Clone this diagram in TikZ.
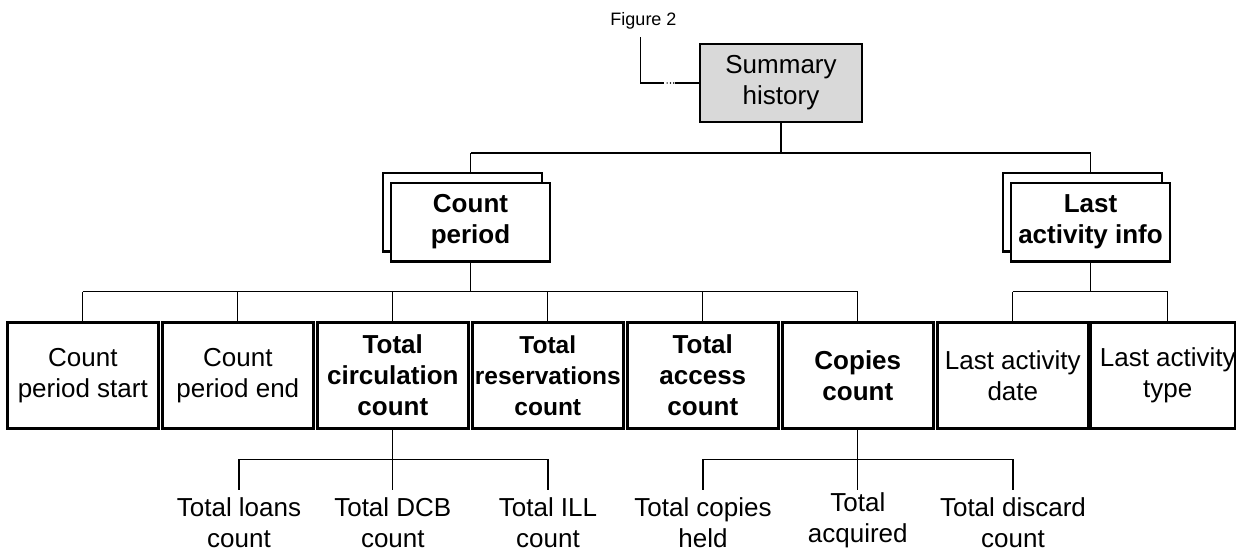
\documentclass[tikz,border=0pt]{standalone}
\usepackage{fontspec}
\setmainfont{Liberation Sans}
\begin{document}
\begin{tikzpicture}[x=1pt,y=-1pt,
  box/.style={draw=black,line width=2.5pt,inner sep=0pt,align=center,
    minimum width=151pt,minimum height=105.6pt,
    font=\fontsize{26}{31}\selectfont},
  boldbox/.style={box,font=\fontsize{26}{31}\selectfont\bfseries},
  groupbox/.style={draw=black,line width=2.5pt,fill=white,inner sep=0pt,align=center,
    minimum width=159pt,minimum height=78.5pt,
    font=\fontsize{26}{31}\selectfont\bfseries},
  leaf/.style={inner xsep=0pt,inner ysep=7.5pt,anchor=north,align=center,
    font=\fontsize{26}{31}\selectfont},
  conn/.style={draw=black,line width=1.3pt},
  dot/.style={fill=black,circle,inner sep=0pt,minimum size=1.6pt}]
\useasboundingbox (0,0) rectangle (1236,552);

% caption and root
\node[anchor=base,font=\fontsize{18}{21}\selectfont] (fig) at (643.5,25) {Figure 2};
\node[draw=black,line width=2.5pt,fill=black!15,inner sep=0pt,align=center,
  minimum width=162pt,minimum height=78pt,font=\fontsize{26}{31}\selectfont]
  (sum) at (781,83) {Summary\\history};

% stacked group boxes
\node[groupbox] (cpb) at (462.5,212) {};
\node[groupbox] (cp) at (470.5,222) {Count\\period};
\node[groupbox] (lab) at (1082.5,212) {};
\node[groupbox] (la) at (1090.5,222) {Last\\activity info};

% element boxes
\node[box]     (c1) at (82.8,375.5)  {Count\\period start};
\node[box]     (c2) at (237.8,375.5) {Count\\period end};
\node[boldbox] (c3) at (392.8,375.5) {Total\\circulation\\count};
\node[boldbox,font=\fontsize{24.5}{31}\selectfont\bfseries]
               (c4) at (547.8,375.5) {Total\\reservations\\count};
\node[boldbox] (c5) at (702.8,375.5) {Total\\access\\count};
\node[boldbox] (c6) at (857.8,375.5) {Copies\\count};
\node[box]     (c7) at (1012.8,375.5) {Last activity\\date};
\node[box,minimum width=141.5pt]
               (c8) at (1163,375.5) {\hspace*{9.6pt}Last activity\\\hspace*{9.6pt}type};

% leaf labels
\node[leaf] (g1) at (239,490)   {Total loans\\count};
\node[leaf] (g2) at (392.8,490) {Total DCB\\count};
\node[leaf] (g3) at (548,490)   {Total ILL\\count};
\node[leaf] (g4) at (703,490)   {Total copies\\held};
\node[leaf,inner ysep=2.5pt] (g5) at (857.8,490) {Total\\acquired};
\node[leaf] (g6) at (1013,490)  {Total discard\\count};

% caption link to root
\draw[conn] ([xshift=-2.8pt,yshift=-12pt]fig.base) |- ([xshift=-35pt]sum.west);
\draw[conn] ([xshift=-23.3pt]sum.west) -- (sum.west);
\node[dot] at ([xshift=-31.7pt]sum.west) {};
\node[dot] at ([xshift=-28.3pt]sum.west) {};
\node[dot] at ([xshift=-25pt]sum.west) {};

% root to groups
\coordinate (b1) at (781,153);
\draw[conn] (sum.south) -- (b1);
\draw[conn] (cp |- b1) -- (la |- b1);
\draw[conn] (cp |- b1) -- (cp |- cpb.north);
\draw[conn] (la |- b1) -- (la |- lab.north);

% groups to elements
\coordinate (b2) at (470.5,291.7);
\draw[conn] (cp.south) -- (b2);
\draw[conn] (c1 |- b2) -- (c6 |- b2);
\foreach \n in {c1,c2,c3,c4,c5,c6}
  \draw[conn] (\n |- b2) -- (\n.north);
\coordinate (b3) at (1090.5,291.7);
\coordinate (t8) at ([xshift=4.8pt]c8.north);
\draw[conn] (la.south) -- (b3);
\draw[conn] (c7 |- b3) -- (t8 |- b3);
\draw[conn] (c7 |- b3) -- (c7.north);
\draw[conn] (t8 |- b3) -- (t8);

% elements to leaves
\coordinate (b4) at (392.8,459.3);
\draw[conn] (c3.south) -- (b4);
\draw[conn] (g1 |- b4) -- (g3 |- b4);
\foreach \n in {g1,g2,g3}
  \draw[conn] (\n |- b4) -- (\n.north);
\coordinate (b5) at (857.8,459.3);
\draw[conn] (c6.south) -- (b5);
\draw[conn] (g4 |- b5) -- (g6 |- b5);
\foreach \n in {g4,g5,g6}
  \draw[conn] (\n |- b5) -- (\n.north);
\end{tikzpicture}
\end{document}
